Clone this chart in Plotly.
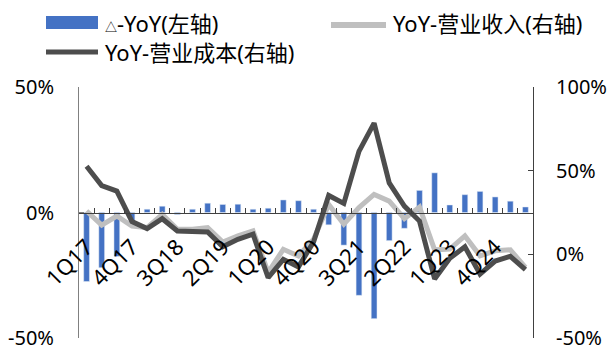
import plotly.graph_objects as go

# ---------------- data ----------------
quarters = ["1Q17","2Q17","3Q17","4Q17","1Q18","2Q18","3Q18","4Q18",
            "1Q19","2Q19","3Q19","4Q19","1Q20","2Q20","3Q20","4Q20",
            "1Q21","2Q21","3Q21","4Q21","1Q22","2Q22","3Q22","4Q22",
            "1Q23","2Q23","3Q23","4Q23","1Q24","2Q24"]
tick_labels = ["1Q17","","","4Q17","","","3Q18","","","2Q19","","","1Q20","","",
               "4Q20","","","3Q21","","","2Q22","","","1Q23","","","4Q24","",""]

delta_yoy = [-27.5, -22.0, -17.5, -3.8, 1.3, 2.5, -0.8, 1.3, 3.7, 3.2,
             3.3, 1.3, 1.7, 5.0, 4.7, 1.3, -4.9, -13.0, -33.0, -42.3,
             -11.2, -6.3, 8.8, 15.8, 3.0, 7.1, 8.4, 6.2, 4.5, 2.2]
rev_yoy = [25.9, 17.5, 22.9, 16.9, 16.0, 23.9, 15.0, 15.0, 16.0, 7.4,
           11.0, 14.0, -10.8, 3.0, -1.0, 9.0, 29.8, 18.0, 27.9, 35.8,
           31.8, 21.3, 28.2, 2.7, 3.1, 11.0, -0.9, 2.1, 2.7, -7.8]
cost_yoy = [52.6, 41.1, 37.8, 19.6, 15.4, 21.3, 14.0, 14.0, 13.4, 4.5,
            9.0, 12.0, -14.0, -3.0, -7.5, 7.4, 35.2, 30.4, 61.5, 78.4,
            42.7, 28.8, 19.9, -14.7, -2.4, 4.5, -11.8, -4.0, -1.2, -9.2]

left_ticks = [-50, 0, 50]
left_text = ["-50%", "0%", "50%"]
right_ticks = [-50, 0, 50, 100]
right_text = ["-50%", "0%", "50%", "100%"]

names = ["<span style='font-size:12px'>△</span>-YoY(左轴)", "YoY-营业收入(右轴)", "YoY-营业成本(右轴)"]

# ---------------- style ----------------
W, H = 611, 349
ML, MR, MT, MB = 79, 78, 87, 11
FONT = "Noto Sans, Noto Sans CJK SC, sans-serif"
BLUE = "#4472C4"
LGRAY = "#BFBFBF"
DGRAY = "#4D4D4D"

def px(x):
    return (x - ML) / (W - ML - MR)

def py(y):
    return (H - MB - y) / (H - MT - MB)

fig = go.Figure()
fig.add_trace(go.Bar(x=quarters, y=delta_yoy, marker_color=BLUE, name=names[0],
                     yaxis="y", showlegend=False))
fig.add_trace(go.Scatter(x=quarters, y=rev_yoy, mode="lines", name=names[1],
                         line=dict(color=LGRAY, width=5), yaxis="y2", showlegend=False))
fig.add_trace(go.Scatter(x=quarters, y=cost_yoy, mode="lines", name=names[2],
                         line=dict(color=DGRAY, width=5), yaxis="y2", showlegend=False))

fig.update_layout(
    width=W, height=H,
    margin=dict(l=ML, r=MR, t=MT, b=MB, autoexpand=False),
    paper_bgcolor="white", plot_bgcolor="white",
    font=dict(family=FONT, size=20, color="#000000"),
    bargap=0.62,
    xaxis=dict(type="category", categoryorder="array", categoryarray=quarters,
               anchor="free", position=0.5, automargin=False,
               showline=True, linecolor="#404040", linewidth=1,
               ticks="inside", ticklen=5, tickcolor="#404040", tickson="boundaries",
               tickvals=quarters, ticktext=tick_labels, tickangle=-45,
               showgrid=False, zeroline=False, tickfont=dict(size=22),
               ticklabelstandoff=12, ticklabeloverflow="allow"),
    yaxis=dict(range=[-50, 50], tickvals=left_ticks, ticktext=left_text,
               automargin=False,
               showline=True, linecolor="#808080", linewidth=1,
               ticks="inside", ticklen=5, tickcolor="#808080",
               showgrid=False, zeroline=False, ticklabelstandoff=20,
               ticklabeloverflow="allow"),
    yaxis2=dict(range=[-50, 100], tickvals=right_ticks, ticktext=right_text,
                overlaying="y", side="right", anchor="x", automargin=False,
                showline=True, linecolor="#404040", linewidth=1,
                ticks="inside", ticklen=5, tickcolor="#404040",
                showgrid=False, zeroline=False, ticklabelstandoff=18,
                ticklabeloverflow="allow"),
)

# manual legend
shapes = [
    dict(type="rect", xref="paper", yref="paper", x0=px(46), x1=px(98), y0=py(29), y1=py(16),
         fillcolor=BLUE, line=dict(width=0)),
    dict(type="line", xref="paper", yref="paper", x0=px(331), x1=px(386), y0=py(25), y1=py(25),
         line=dict(color=LGRAY, width=6)),
    dict(type="line", xref="paper", yref="paper", x0=px(46), x1=px(98), y0=py(52), y1=py(52),
         line=dict(color=DGRAY, width=5)),
]
annots = [
    dict(text=names[0], x=px(103), y=py(23)),
    dict(text=names[1], x=px(391), y=py(23)),
    dict(text=names[2], x=px(103), y=py(52)),
]
for a in annots:
    a.update(xref="paper", yref="paper", xanchor="left", yanchor="middle", showarrow=False,
             font=dict(family=FONT, size=22, color="#000000"))
fig.update_layout(shapes=shapes, annotations=annots)

fig.write_html("out.html")
